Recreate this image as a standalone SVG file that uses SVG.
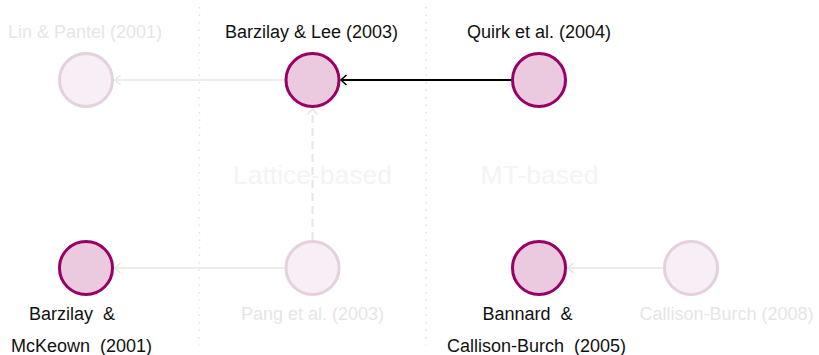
<svg xmlns="http://www.w3.org/2000/svg" width="819" height="355" viewBox="0 0 819 355">
  <style>
    text { font-family: "Liberation Sans", Arial, Helvetica, sans-serif; }
    .lbl { font-size: 18px; fill: #111111; text-anchor: middle; }
    .lbl-faded { font-size: 18px; fill: #e6e6e6; text-anchor: middle; }
    .group { font-size: 26.5px; fill: #f4f4f4; text-anchor: middle; }
    .divider { stroke: #e2e2e2; stroke-width: 1.5; stroke-dasharray: 1.5 6; fill: none; }
    .node { fill: #ebcadf; stroke: #990066; stroke-width: 3; }
    .node-faded { fill: #f7eff5; stroke: #e5d0de; stroke-width: 3; }
    .edge { stroke: #000000; stroke-width: 2; fill: none; marker-end: url(#arrow); }
    .edge-faded { stroke: #ececec; stroke-width: 2; fill: none; marker-end: url(#arrow-faded); }
    .edge-dashed { stroke: #e6e6e6; stroke-width: 2; stroke-dasharray: 8 5; fill: none; marker-end: url(#arrow-faded); }
  </style>
  <defs>
    <marker id="arrow" viewBox="0 0 10 12" refX="8" refY="6" markerWidth="10" markerHeight="12" markerUnits="userSpaceOnUse" orient="auto">
      <path d="M2.5,1 L8,6 L2.5,11" fill="none" stroke="#000000" stroke-width="1.6"/>
    </marker>
    <marker id="arrow-faded" viewBox="0 0 10 12" refX="8" refY="6" markerWidth="10" markerHeight="12" markerUnits="userSpaceOnUse" orient="auto">
      <path d="M2.5,1 L8,6 L2.5,11" fill="none" stroke="#e6e6e6" stroke-width="1.6"/>
    </marker>
  </defs>

  <rect width="819" height="355" fill="#ffffff"/>

  <!-- column dividers -->
  <line class="divider" x1="199.5" y1="7" x2="199.5" y2="345"/>
  <line class="divider" x1="426" y1="7" x2="426" y2="345"/>

  <!-- group titles -->
  <text class="group" x="312.5" y="184">Lattice-based</text>
  <text class="group" x="539.5" y="184">MT-based</text>

  <g id="connectors">
    <line class="edge-faded" x1="285" y1="80" x2="115" y2="80"/>
    <line class="edge" x1="512" y1="80" x2="341" y2="80"/>
    <line class="edge-dashed" x1="312.5" y1="240" x2="312.5" y2="109"/>
    <line class="edge-faded" x1="285" y1="268" x2="115" y2="268"/>
    <line class="edge-faded" x1="664" y1="268" x2="568" y2="268"/>
  </g>

  <g id="lin-pantel-2001">
    <circle class="node-faded" cx="86" cy="80" r="26.5"/>
    <text class="lbl-faded" x="85" y="38">Lin &amp; Pantel (2001)</text>
  </g>

  <g id="barzilay-lee-2003">
    <circle class="node" cx="312.5" cy="80" r="26.5"/>
    <text class="lbl" x="311.5" y="38">Barzilay &amp; Lee (2003)</text>
  </g>

  <g id="quirk-2004">
    <circle class="node" cx="539" cy="80" r="26.5"/>
    <text class="lbl" x="539" y="38">Quirk et al. (2004)</text>
  </g>

  <g id="barzilay-mckeown-2001">
    <circle class="node" cx="86" cy="268" r="26.5"/>
    <text class="lbl" x="72" y="320" xml:space="preserve">Barzilay  &amp;</text>
    <text class="lbl" x="81.5" y="352" xml:space="preserve">McKeown  (2001)</text>
  </g>

  <g id="pang-2003">
    <circle class="node-faded" cx="312.5" cy="268" r="26.5"/>
    <text class="lbl-faded" x="312.5" y="320">Pang et al. (2003)</text>
  </g>

  <g id="bannard-callison-burch-2005">
    <circle class="node" cx="539" cy="268" r="26.5"/>
    <text class="lbl" x="527.5" y="320" xml:space="preserve">Bannard  &amp;</text>
    <text class="lbl" x="536.5" y="352" xml:space="preserve">Callison-Burch  (2005)</text>
  </g>

  <g id="callison-burch-2008">
    <circle class="node-faded" cx="691" cy="268" r="26.5"/>
    <text class="lbl-faded" x="726.5" y="320">Callison-Burch (2008)</text>
  </g>
</svg>
